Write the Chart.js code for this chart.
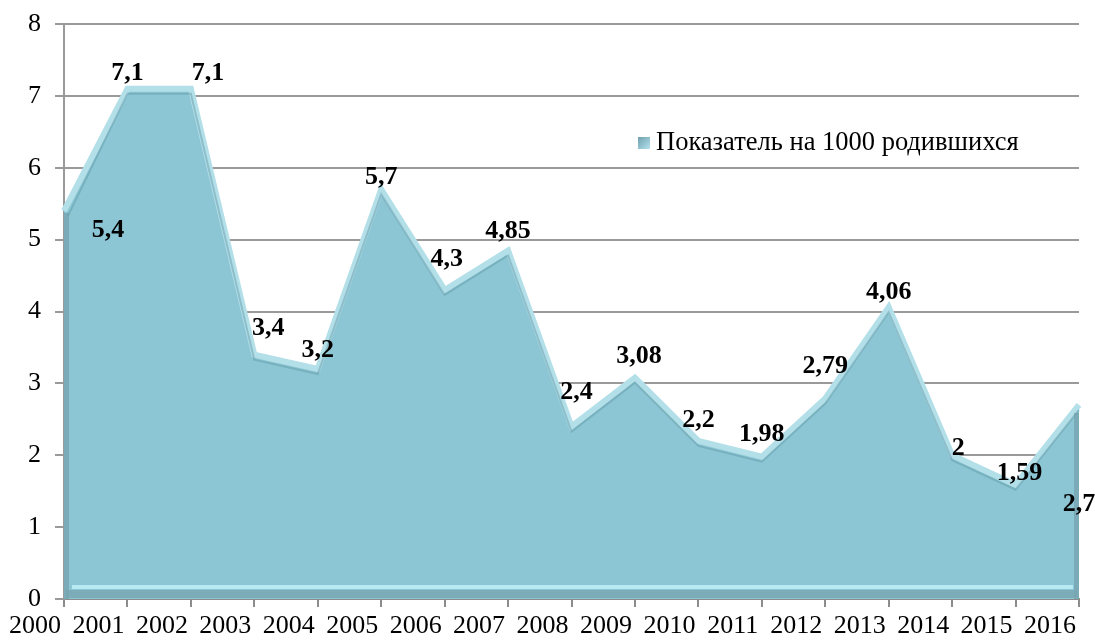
<!DOCTYPE html>
<html>
<head>
<meta charset="utf-8">
<script src="https://cdn.jsdelivr.net/npm/chart.js@4/dist/chart.umd.min.js"></script>
<style>
  html, body { margin: 0; padding: 0; background: #fff; }
  #wrap { width: 1095px; height: 641px; }
</style>
</head>
<body>
<div id="wrap"><canvas id="myChart" width="1095" height="641"></canvas></div>
<script>
// data
const years = ['2000','2001','2002','2003','2004','2005','2006','2007','2008',
               '2009','2010','2011','2012','2013','2014','2015','2016'];
const rate = [5.4, 7.1, 7.1, 3.4, 3.2, 5.7, 4.3, 4.85, 2.4, 3.08, 2.2, 1.98, 2.79, 4.06, 2, 1.59, 2.7];
const seriesName = 'Показатель на 1000 родившихся';
const yTicks = [0, 1, 2, 3, 4, 5, 6, 7, 8];

const serif = '"Liberation Serif", "Times New Roman", serif';

// value labels, nudged around each point like in the original
const valueLabels = {
    id: 'valueLabels',
    afterDatasetsDraw(chart, args, opts) {
        const ctx = chart.ctx;
        const meta = chart.getDatasetMeta(0);
        ctx.save();
        ctx.font = 'bold 26px ' + serif;
        ctx.fillStyle = '#000';
        ctx.textAlign = 'center';
        ctx.textBaseline = 'middle';
        meta.data.forEach((pt, i) => {
            const shift = opts.offsets[i] || [0, -20];
            const txt = String(rate[i]).replace('.', ',');
            ctx.fillText(txt, pt.x + shift[0], pt.y + shift[1]);
        });
        ctx.restore();
    }
};

// a rough take on the excel bevel: dark left/right sides and a light bottom rim
const bevel = {
    id: 'bevel',
    afterDatasetsDraw(chart) {
        const ctx = chart.ctx;
        const area = chart.chartArea;
        const pts = chart.getDatasetMeta(0).data;
        const first = pts[0], last = pts[pts.length - 1];
        ctx.save();
        // inner shadow under the top edge
        ctx.beginPath();
        pts.forEach((p, i) => i ? ctx.lineTo(p.x, p.y + 5) : ctx.moveTo(p.x + 4, p.y + 5));
        ctx.strokeStyle = 'rgba(95,150,165,0.45)';
        ctx.lineWidth = 2;
        ctx.stroke();
        // left and right sides
        ctx.fillStyle = 'rgba(110,150,160,0.55)';
        ctx.fillRect(first.x, first.y + 2, 5, area.bottom - first.y - 2);
        ctx.fillRect(last.x - 5, last.y + 8, 5, area.bottom - last.y - 8);
        // bottom rim
        ctx.fillStyle = 'rgba(120,165,175,0.8)';
        ctx.fillRect(area.left + 2, area.bottom - 9, area.right - area.left - 4, 8);
        ctx.fillStyle = '#b8eaf3';
        ctx.fillRect(area.left + 8, area.bottom - 14, area.right - area.left - 14, 4);
        ctx.restore();
    }
};

// legend drawn inside the plot at the upper right
const innerLegend = {
    id: 'innerLegend',
    afterDraw(chart) {
        const ctx = chart.ctx;
        ctx.save();
        const g = ctx.createLinearGradient(638, 137, 650, 149);
        g.addColorStop(0, '#6f9fae');
        g.addColorStop(1, '#b5e3ee');
        ctx.fillStyle = g;
        ctx.fillRect(638, 137, 12, 12);
        ctx.font = '26.5px ' + serif;
        ctx.fillStyle = '#000';
        ctx.textBaseline = 'middle';
        ctx.fillText(seriesName, 656, 143);
        ctx.restore();
    }
};

function mainEvent() {
    const chartTarget = document.querySelector('#myChart');
    const data = {
        labels: years,
        datasets: [{
            label: seriesName,
            data: rate,
            fill: 'origin',
            backgroundColor: '#8cc6d4',
            borderColor: '#b3dfe9',
            borderWidth: 6,
            borderJoinStyle: 'miter',
            pointRadius: 0,
            tension: 0
        }]
    };

    const config = {
        type: 'line',
        data: data,
        plugins: [bevel, valueLabels, innerLegend],
        options: {
            responsive: false,
            animation: false,
            layout: { padding: { top: 24, right: 0, bottom: 0, left: 0 } },
            plugins: {
                legend: { display: false },
                tooltip: { enabled: false },
                valueLabels: {
                    offsets: {
                        0: [44, 19], 1: [0, -15], 2: [17, -15], 3: [14, -26], 4: [0, -19],
                        5: [0, -12], 6: [2, -31], 7: [0, -19], 8: [5, -34], 9: [4, -21],
                        10: [0, -21], 11: [0, -22], 12: [0, -32], 13: [0, -15], 14: [6, -7],
                        15: [4, -11], 16: [0, 99]
                    }
                }
            },
            scales: {
                x: {
                    offset: false,
                    grid: {
                        offset: false,
                        drawOnChartArea: false,
                        drawTicks: true,
                        tickLength: 8,
                        color: '#8c8c8c',
                        lineWidth: 2
                    },
                    border: { display: true, color: '#8c8c8c', width: 2 },
                    ticks: {
                        maxRotation: 0,
                        autoSkip: false,
                        padding: 4,
                        labelOffset: -29,
                        color: '#000',
                        font: { family: serif, size: 26 }
                    },
                    afterFit(scale) {
                        scale.height = 42;
                        scale.paddingRight = 16;
                    }
                },
                y: {
                    min: 0,
                    max: 8,
                    afterBuildTicks(scale) {
                        scale.ticks = yTicks.map((v) => ({ value: v }));
                    },
                    grid: {
                        color: '#9a9a9a',
                        lineWidth: 2,
                        tickLength: 9
                    },
                    border: { display: true, color: '#9a9a9a', width: 2 },
                    ticks: {
                        padding: 14,
                        color: '#000',
                        font: { family: serif, size: 26 }
                    },
                    afterFit(scale) {
                        scale.width = 64;
                        scale.paddingTop = 0;
                        scale.paddingBottom = 0;
                    }
                }
            }
        }
    };

    return new Chart(chartTarget, config);
}

document.addEventListener('DOMContentLoaded', () => mainEvent());
</script>
</body>
</html>
